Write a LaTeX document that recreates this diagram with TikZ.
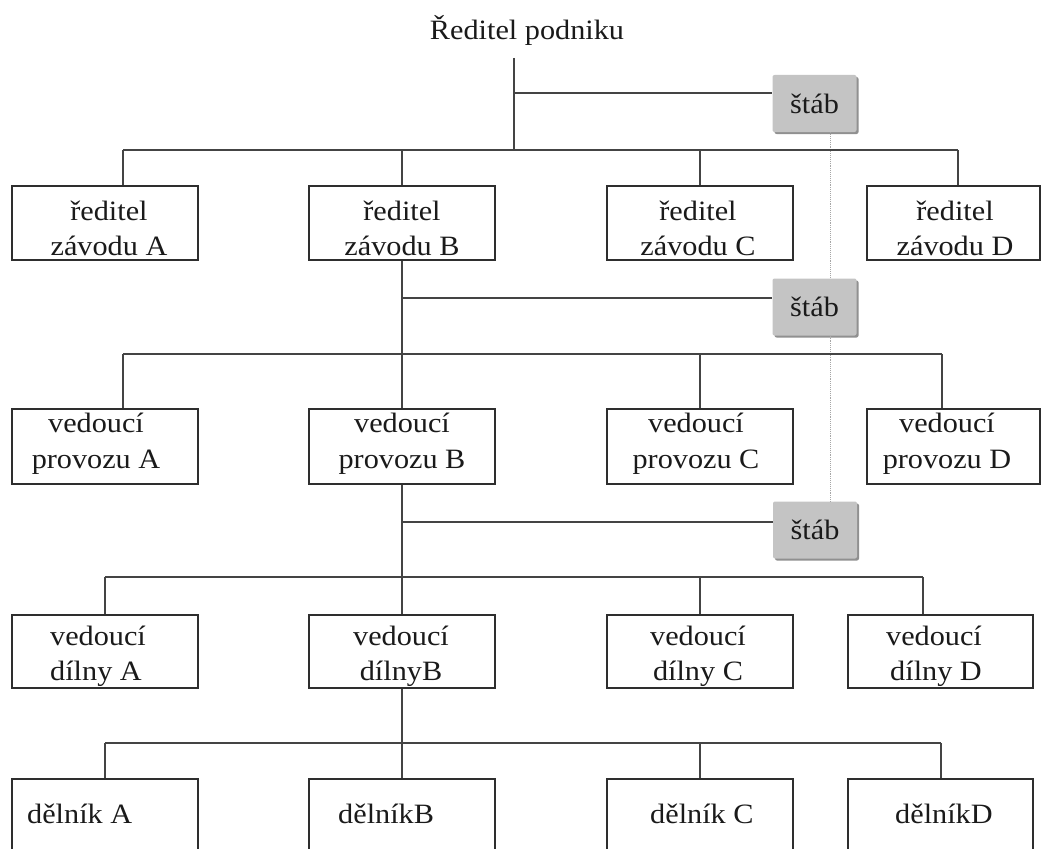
\documentclass[tikz,border=0pt]{standalone}
\usepackage{fontspec}
\setmainfont{Liberation Serif}[FakeStretch=1.08]
\usetikzlibrary{shadows}
\definecolor{linegray}{HTML}{444444}
\definecolor{boxgray}{HTML}{2E2E2E}
\definecolor{stabfill}{HTML}{C4C4C4}
\definecolor{stabshade}{HTML}{909090}
\definecolor{inkcol}{HTML}{1A1A1A}
\begin{document}
\begin{tikzpicture}[x=1pt,y=-1pt,
  conn/.style={draw=linegray,line width=2pt},
  staffline/.style={draw=gray!70,line width=0.9pt,densely dotted},
  unitbox/.style={draw=boxgray,line width=2pt,fill=white,inner sep=0pt,minimum width=186pt},
  stabbox/.style={fill=stabfill,rounded corners=2pt,inner sep=0pt,
    minimum width=84pt,minimum height=57pt,text=inkcol,
    font=\fontsize{28}{35}\selectfont,
    drop shadow={shadow xshift=2pt,shadow yshift=-2pt,fill=stabshade,opacity=1}},
  lbl/.style={font=\fontsize{28}{35}\selectfont,text=inkcol,inner sep=0pt,anchor=base}]
\useasboundingbox (0,0) rectangle (1043,848);
\clip (0,0) rectangle (1043,848);
\fill[white] (0,0) rectangle (1043,848);

% top of the hierarchy
\node[lbl] (ceo) at (527,40) {Ředitel podniku};
\coordinate (ceoleg) at (514,58);
\coordinate (k1) at (514,93);
\coordinate (dline) at (830,0);

% staff boxes
\node[stabbox] (s1) at (814.5,103.5) {štáb};
\node[stabbox] (s2) at (814.5,307) {štáb};
\node[stabbox] (s3) at (815,530) {štáb};

% row 1: plant directors
\foreach \n/\cx/\w/\tx/\L in {a/105/186/109/A, b/402/186/402/B, c/700/186/698/C, d/953.5/173/955/D} {
  \node[unitbox,minimum width=\w pt,minimum height=74pt] (r1\n) at (\cx,223) {};
  \node[lbl] (r1\n l1) at (\tx,220) {ředitel};
  \node[lbl] (r1\n l2) at (\tx,255) {závodu \L};
}
% row 2: operation managers
\foreach \n/\cx/\w/\tx/\L in {a/105/186/96/A, b/402/186/402/B, c/700/186/696/C, d/953.5/173/947/D} {
  \node[unitbox,minimum width=\w pt,minimum height=75pt] (r2\n) at (\cx,446.5) {};
  \node[lbl] (r2\n l1) at (\tx,432) {vedoucí};
  \node[lbl] (r2\n l2) at (\tx,468) {provozu \L};
}
% row 3: workshop managers
\node[unitbox,minimum height=73pt] (r3a) at (105,651.5) {};
\node[unitbox,minimum height=73pt] (r3b) at (402,651.5) {};
\node[unitbox,minimum height=73pt] (r3c) at (700,651.5) {};
\node[unitbox,minimum width=185pt,minimum height=73pt] (r3d) at (940.5,651.5) {};
\node[lbl] (r3al1) at (98,645) {vedoucí};
\node[lbl] (r3al2) at (96,680) {dílny A};
\node[lbl] (r3bl1) at (401,645) {vedoucí};
\node[lbl] (r3bl2) at (401,680) {dílnyB};
\node[lbl] (r3cl1) at (698,645) {vedoucí};
\node[lbl] (r3cl2) at (698,680) {dílny C};
\node[lbl] (r3dl1) at (934,645) {vedoucí};
\node[lbl] (r3dl2) at (936,680) {dílny D};
% row 4: workers
\node[unitbox,minimum height=110pt] (r4a) at (105,834) {};
\node[unitbox,minimum height=110pt] (r4b) at (402,834) {};
\node[unitbox,minimum height=110pt] (r4c) at (700,834) {};
\node[unitbox,minimum width=185pt,minimum height=110pt] (r4d) at (940.5,834) {};
\node[lbl,anchor=base west] (r4at) at (27,823) {dělník A};
\node[lbl,anchor=base west] (r4bt) at (338,823) {dělníkB};
\node[lbl,anchor=base west] (r4ct) at (650,823) {dělník C};
\node[lbl,anchor=base west] (r4dt) at (895,823) {dělníkD};

% branch points of the distribution bars
\coordinate (b1a) at (123,150); \coordinate (b1b) at (402,150);
\coordinate (b1c) at (700,150); \coordinate (b1d) at (958,150);
\coordinate (b2a) at (123,354); \coordinate (b2b) at (402,354);
\coordinate (b2c) at (700,354); \coordinate (b2d) at (942,354);
\coordinate (b3a) at (105,577); \coordinate (b3b) at (402,577);
\coordinate (b3c) at (700,577); \coordinate (b3d) at (923,577);
\coordinate (b4a) at (105,743); \coordinate (b4b) at (402,743);
\coordinate (b4c) at (700,743); \coordinate (b4d) at (941,743);
\coordinate (k2) at (402,298);
\coordinate (k3) at (402,522);

% dotted staff link between the staff boxes
\draw[staffline] (s1.south -| dline) -- (s2.north -| dline);
\draw[staffline] (s2.south -| dline) -- (s3.north -| dline);

% trunk lines and staff attachments
\draw[conn] (ceoleg) -- (b1b -| ceoleg);
\draw[conn] (k1) -- (k1 -| s1.west);
\draw[conn] (r1b.south) -- (b2b);
\draw[conn] (k2) -- (k2 -| s2.west);
\draw[conn] (r2b.south) -- (b3b);
\draw[conn] (k3) -- (k3 -| s3.west);
\draw[conn] (r3b.south) -- (b4b);

% distribution bars and drops
\foreach \r in {1,2,3,4} {
  \draw[conn] (b\r a) -- (b\r d);
  \foreach \n in {a,b,c,d} {
    \draw[conn] (b\r\n) -- (b\r\n |- r\r\n.north);
  }
}
\end{tikzpicture}
\end{document}
